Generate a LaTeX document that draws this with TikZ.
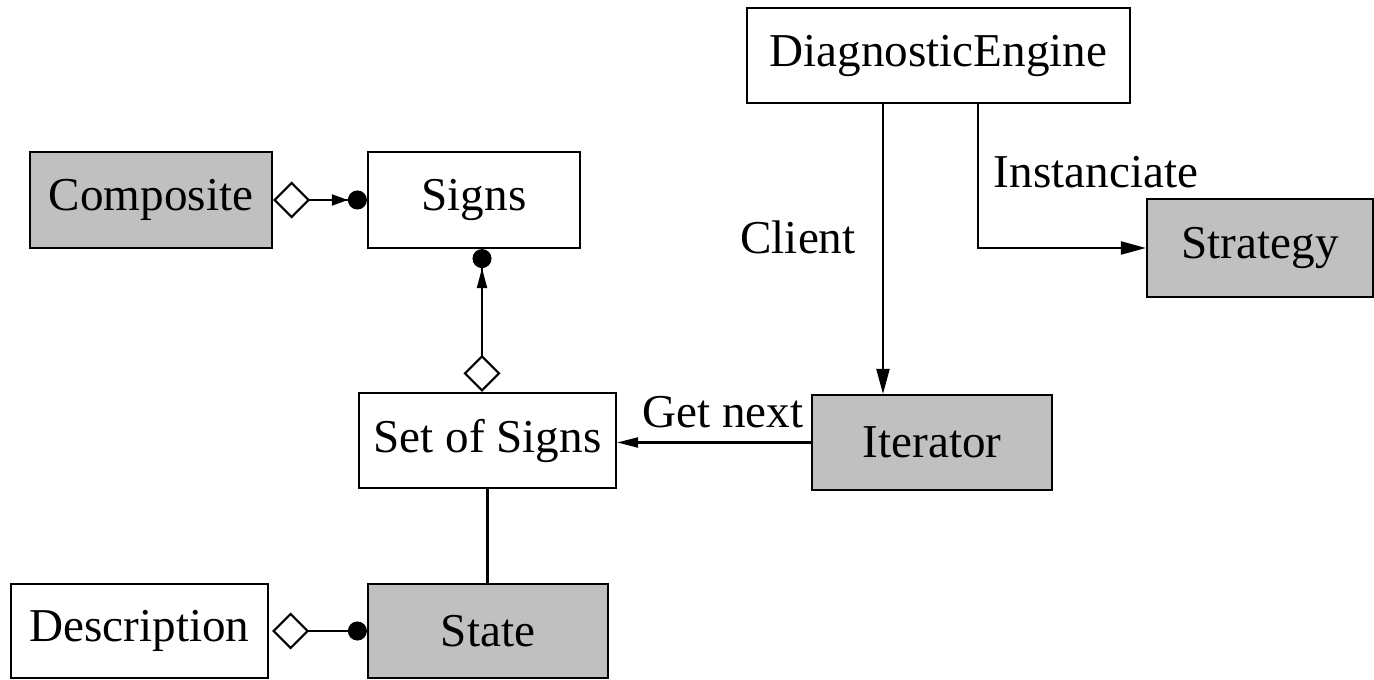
\documentclass[tikz,border=0pt]{standalone}
\usepackage{fontspec}
\setmainfont{Liberation Serif}
\usetikzlibrary{arrows.meta}
\definecolor{boxgrey}{RGB}{192,192,192}

\begin{document}
\begin{tikzpicture}[x=0.01cm,y=-0.01cm,
    line width=0.6pt,
    every node/.style={font=\fontsize{13.4}{16}\selectfont},
    cls/.style={draw,inner sep=0pt,minimum height=0.95cm},
    pattern/.style={cls,fill=boxgrey},
    arr/.style={-{Triangle[length=0.25cm,width=0.13cm]}},
    many/.style={{Diamond[open,fill=white,length=0.37cm,width=0.37cm]}-{Triangle[length=0.16cm,width=0.11cm]Circle[length=0.19cm]}},
    manyup/.style={{Diamond[open,fill=white,length=0.37cm,width=0.37cm]}-{Triangle[length=0.20cm,width=0.10cm]Circle[length=0.19cm]}},
    one/.style={{Diamond[open,fill=white,length=0.37cm,width=0.37cm]}-{Circle[length=0.19cm]}}]
    \useasboundingbox (0,0) rectangle (1374,680);

    % classes
    \node[cls,minimum width=3.83cm] (de) at (938.5,55.5) {DiagnosticEngine};
    \node[pattern,minimum width=2.42cm,minimum height=0.96cm] (comp) at (151,200) {Composite};
    \node[cls,minimum width=2.12cm,minimum height=0.96cm] (signs) at (474,200) {Signs};
    \node[pattern,minimum width=2.26cm,minimum height=0.98cm] (strat) at (1260,248) {Strategy};
    \node[cls,minimum width=2.57cm] (set) at (487.5,440.5) {Set of Signs};
    \node[pattern,minimum width=2.40cm] (iter) at (932,442.5) {Iterator};
    \node[cls,minimum width=2.57cm,minimum height=0.94cm] (descr) at (139.5,631) {Description};
    \node[pattern,minimum width=2.40cm,minimum height=0.94cm] (state) at (488,631) {State};

    % labels
    \node (client) at (798,237) {Client};
    \node (inst) at (1096,172) {Instanciate};
    \node (next) at (723,412) {Get next};

    % links
    \draw[arr] ([xshift=-0.555cm]de.south) -- ([xshift=-0.555cm]de.south |- iter.north);
    \draw[arr] ([xshift=0.395cm]de.south) |- (strat.west);
    \draw[-{Triangle[length=0.21cm,width=0.10cm]}] (iter.west) -- (iter.west -| set.east);
    \draw[many] (comp.east) -- (signs.west);
    \draw[manyup] ([xshift=-0.055cm]set.north) -- ([xshift=-0.055cm]set.north |- signs.south);
    \draw (set.south) -- (set.south |- state.north);
    \draw[one] ([xshift=0.03cm]descr.east) -- (state.west);

\end{tikzpicture}
\end{document}
